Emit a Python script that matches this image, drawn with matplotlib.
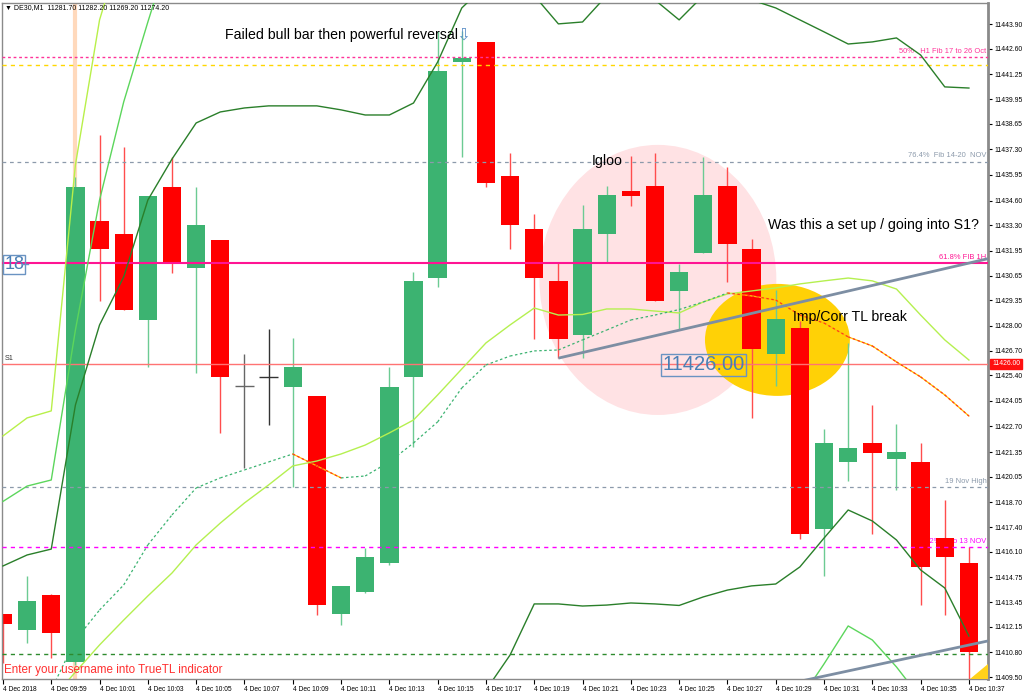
import matplotlib
matplotlib.use("Agg")
import matplotlib.pyplot as plt
import numpy as np
from matplotlib.patches import Ellipse, Polygon

plt.rcParams['font.family'] = ['Liberation Sans', 'DejaVu Sans']

nan = np.nan

# ---------------- data ----------------
xtick_labels = ["4 Dec 2018", "4 Dec 09:59", "4 Dec 10:01", "4 Dec 10:03", "4 Dec 10:05",
                "4 Dec 10:07", "4 Dec 10:09", "4 Dec 10:11", "4 Dec 10:13", "4 Dec 10:15",
                "4 Dec 10:17", "4 Dec 10:19", "4 Dec 10:21", "4 Dec 10:23", "4 Dec 10:25",
                "4 Dec 10:27", "4 Dec 10:29", "4 Dec 10:31", "4 Dec 10:33", "4 Dec 10:35",
                "4 Dec 10:37"]

ytick_labels = ["11443.90", "11442.60", "11441.25", "11439.95", "11438.65", "11437.30",
                "11435.95", "11434.60", "11433.30", "11431.95", "11430.65", "11429.35",
                "11428.00", "11426.70", "11425.40", "11424.05", "11422.70", "11421.35",
                "11420.05", "11418.70", "11417.40", "11416.10", "11414.75", "11413.45",
                "11412.15", "11410.80", "11409.50"]

opens = [11412.81, 11412.00, 11413.81, 11410.27, 11433.51, 11432.84, 11428.32, 11435.33,
         11431.03, 11432.53, 11424.82, 11425.32, 11424.78, 11424.33, 11412.82, 11413.98,
         11415.51, 11425.33, 11430.54, 11441.89, 11442.93, 11435.89, 11433.08, 11430.34,
         11427.52, 11432.83, 11435.09, 11435.38, 11429.83, 11431.84, 11435.36, 11432.05,
         11426.53, 11427.87, 11417.30, 11420.81, 11421.84, 11420.99, 11420.84, 11416.81,
         11415.52]
highs = [11412.81, 11414.81, 11413.85, 11435.86, 11438.05, 11437.40, 11434.84, 11436.90,
         11435.33, 11432.53, 11426.53, 11427.85, 11427.34, 11424.33, 11414.30, 11416.30,
         11425.82, 11430.86, 11443.51, 11443.51, 11442.93, 11437.10, 11433.90, 11431.30,
         11434.37, 11435.39, 11436.93, 11437.10, 11431.28, 11436.90, 11436.38, 11432.56,
         11429.89, 11428.26, 11422.54, 11427.11, 11423.84, 11422.83, 11421.84, 11418.85,
         11416.34]
lows = [11410.24, 11411.27, 11410.51, 11410.13, 11429.30, 11428.83, 11425.81, 11430.81,
        11425.50, 11422.33, 11420.50, 11422.76, 11419.50, 11412.78, 11412.24, 11413.90,
        11415.40, 11421.62, 11430.05, 11436.90, 11435.34, 11432.04, 11427.31, 11426.30,
        11426.31, 11431.33, 11434.33, 11429.32, 11427.84, 11431.84, 11430.33, 11423.15,
        11424.81, 11416.79, 11414.80, 11419.81, 11417.01, 11419.34, 11413.30, 11412.79,
        11408.80]
closes = [11412.28, 11413.49, 11411.80, 11435.33, 11432.04, 11428.83, 11434.84, 11431.33,
          11433.32, 11425.31, 11424.82, 11425.32, 11425.81, 11413.28, 11414.30, 11415.82,
          11424.80, 11430.34, 11441.43, 11442.10, 11435.53, 11433.33, 11430.52, 11427.31,
          11433.08, 11434.90, 11434.86, 11429.32, 11430.86, 11434.88, 11432.33, 11426.80,
          11428.35, 11417.01, 11421.84, 11421.57, 11421.30, 11421.36, 11415.29, 11415.81,
          11410.81]

band_upper = [11415.35, 11415.93, 11416.24, 11423.83, 11428.05, 11430.58, 11434.63, 11436.79,
              11438.69, 11439.27, 11439.48, 11439.59, 11439.59, 11439.59, 11439.38, 11439.11,
              11439.11, 11439.74, 11441.90, 11444.75, 11445.96, 11446.20, 11445.40, 11443.91,
              11444.01, 11445.40, 11445.96, 11445.17, 11444.12, 11445.40, 11445.40, 11445.17,
              11444.75, 11444.12, 11443.49, 11442.85, 11442.96, 11443.17, 11442.27, 11440.59,
              11440.53]
band_lower = [nan] * 19 + [11406.50, 11408.81, 11410.66, 11413.35, 11413.35, 11413.24, 11413.29,
              11413.40, 11413.35, 11413.27, 11413.72, 11414.08, 11414.30, 11414.40, 11415.30,
              11416.82, 11418.30, 11417.72, 11416.72, 11415.14, 11414.19, 11411.66]

env_upper = [11418.75, 11419.56, 11419.88, 11427.78, 11434.63, 11439.80, 11444.01, 11448.07] + [nan] * 33
env_lower = [nan] * 33 + [11408.29, 11410.19, 11412.19, 11411.45, 11410.03, 11408.39, nan, nan]

yg_upper = [11422.20, 11423.15, 11423.52, 11436.48, 11444.12, 11448.30] + [nan] * 35

ma_mid = [nan, nan, 11408.30, 11409.76, 11411.19, 11412.50, 11413.77, 11414.98, 11416.46,
          11417.61, 11418.67, 11419.62, 11420.62, 11420.88, 11421.25, 11421.72, 11422.36,
          11423.04, 11424.36, 11425.73, 11427.10, 11428.05, 11428.94, 11428.57, 11428.60,
          11428.89, 11428.89, 11428.78, 11428.68, 11429.26, 11429.68, 11429.84, 11430.00,
          11430.21, 11430.37, 11430.52, 11430.37, 11429.94, 11428.57, 11427.26, 11426.20]

ma_sig = [nan, nan, 11408.82, 11411.45, 11413.03, 11414.35, 11416.46, 11418.04, 11419.46,
          11419.99, 11420.41, 11420.83, 11421.25, 11420.62, 11419.99, 11420.09, 11420.83,
          11421.83, 11422.94, 11424.73, 11425.94, 11426.41, 11426.68, 11426.73, 11427.26,
          11427.78, 11428.31, 11428.57, 11428.86, 11429.26, 11429.73, 11429.58, 11429.36,
          11428.57, 11428.15, 11427.42, 11426.94, 11426.10, 11425.31, 11424.36, 11423.25]

level_prices = [11442.15, 11441.74, 11436.65, 11431.30, 11426.00, 11419.51, 11416.35, 11410.71]
level_colors = ['#FF3399', '#FFD700', '#8C9AAB', '#FF1493', '#FF7373', '#8C9AAB', '#FF00FF', '#2E8B2E']
level_styles = [(0, (2, 2)), (0, (3, 3)), (0, (3, 3)), '-', '-', (0, (3, 3)), (0, (3, 3)), (0, (3, 3))]
level_widths = [1.0, 1.0, 0.9, 1.5, 1.0, 0.9, 1.0, 1.0]
level_labels = ["50%   H1 Fib 17 to 26 Oct", "", "76.4%  Fib 14-20  NOV", "61.8% FIB 1H", "",
                "19 Nov High", "38.2%  7 to 13 NOV", ""]

tl_upper_x = [23, 40.79]
tl_upper_y = [11426.30, 11431.54]
tl_lower_x = [32.0, 40.79]
tl_lower_y = [11409.00, 11411.40]

s1_price = 11426.00

# ---------------- figure ----------------
W, H = 1024, 695
fig = plt.figure(figsize=(W / 100, H / 100), dpi=100)
fig.patch.set_facecolor('white')
ax = fig.add_axes([2 / W, 16 / H, 986 / W, 676 / H])
ax.set_xlim(-0.04, 40.79)
ax.set_ylim(11409.395, 11445.01)

# background shapes
ax.add_patch(Ellipse((27.12, 11430.42), 9.81, 14.23, facecolor='#FFE2E4', edgecolor='none', zorder=0.5))
ax.add_patch(Ellipse((32.07, 11427.26), 6.0, 5.9, facecolor='#FFD106', edgecolor='none', zorder=0.6))

# vertical marker line at 10:00
ax.axvline(3, color='#FFD9BC', lw=3.0, zorder=0.8)

# candles
GREEN = '#3CB371'
RED = '#FF0000'
n = len(opens)
for i in range(n):
    o, h, l, c = opens[i], highs[i], lows[i], closes[i]
    if c > o:
        col, wcol = GREEN, '#6CCB93'
    elif c < o:
        col, wcol = RED, '#FF4D4D'
    else:
        col = wcol = '#666666' if i == 10 else '#333333'
    ax.vlines(i, l, h, color=wcol, lw=1.0, zorder=2)
    if c != o:
        ax.bar(i, abs(c - o), bottom=min(o, c), width=0.76, color=col,
               edgecolor='none', zorder=2.2)
    else:
        ax.hlines(o, i - 0.38, i + 0.38, color=col, lw=1.0, zorder=2.2)

xs = np.arange(n)
# horizontal levels
for p, c, ls, lw, lab in zip(level_prices, level_colors, level_styles, level_widths, level_labels):
    ax.axhline(p, color=c, ls=ls, lw=lw, zorder=3)
    if lab:
        ax.text(40.72, p + 0.12, lab, color=c, fontsize=5.4, ha='right', va='bottom', zorder=1.5)

# indicator lines
ax.plot(xs, band_upper, color='#2A7F2A', lw=1.0, zorder=3.2)
ax.plot(xs, band_lower, color='#2A7F2A', lw=1.0, zorder=3.2)
ax.plot(xs, env_upper, color='#5CD65C', lw=1.0, zorder=3.1)
ax.plot(xs, env_lower, color='#5CD65C', lw=1.0, zorder=3.1)
ax.plot(xs, yg_upper, color='#B8F04A', lw=1.0, zorder=3.1)
ax.plot(xs, ma_mid, color='#B5F050', lw=1.0, zorder=3.1)
for i in range(n - 1):
    a, b = ma_sig[i], ma_sig[i + 1]
    if np.isnan(a) or np.isnan(b):
        continue
    if b >= a:
        ax.plot([i, i + 1], [a, b], color='#3CB371', lw=0.9, ls=(0, (2, 2)), zorder=3.1)
    else:
        ax.plot([i, i + 1], [a, b], color='#FFC000', lw=0.9, zorder=3.05)
        ax.plot([i, i + 1], [a, b], color='#FF3B1F', lw=0.9, ls=(0, (2, 2)), zorder=3.1)

# trend lines
ax.plot(tl_upper_x, tl_upper_y, color='#7D8EA3', lw=2.0, zorder=3.5, solid_capstyle='butt')
ax.plot(tl_lower_x, tl_lower_y, color='#7D8EA3', lw=2.0, zorder=3.5, solid_capstyle='butt')

# annotations
ax.text(9.19, 11443.33, "Failed bull bar then powerful reversal", fontsize=10.2, ha='left',
        va='center', color='black', zorder=6)
ax.text(19.05, 11443.35, "\u21e9", fontsize=12, color='#5B8FC7', ha='center', va='center',
        family=['DejaVu Sans'], zorder=6)
ax.text(24.39, 11436.69, "Igloo", fontsize=10.2, ha='left', va='center', color='black', zorder=6)
ax.text(31.68, 11433.29, "Was this a set up / going into S1?", fontsize=10.2, ha='left',
        va='center', color='black', zorder=6)
ax.text(32.71, 11428.47, "Imp/Corr TL break", fontsize=10.2, ha='left', va='center',
        color='black', zorder=6)
ax.text(27.3, s1_price - 0.05, "11426.00", fontsize=14.5, color='#4A7FB5', ha='left', va='center',
        zorder=6, bbox=dict(boxstyle='square,pad=0.08', fc='none', ec='#6A93C2', lw=1.0))
ax.text(0.06, 11431.22, "18", fontsize=13, color='#4A7FB5', ha='left', va='center', zorder=6,
        bbox=dict(boxstyle='square,pad=0.06', fc='none', ec='#6A93C2', lw=1.0))
ax.plot([0.78, 1.05], [11431.25, 11431.25], color='#6A93C2', lw=1.0, zorder=6)
ax.text(0.06, s1_price + 0.12, "S1", fontsize=5.2, color='#333333', ha='left', va='bottom', zorder=6)
ax.text(0.06, 11409.85, "Enter your username into TrueTL indicator", fontsize=8.4, color='#FF3030',
        ha='left', va='center', zorder=6)

# corner triangle
ax.add_patch(Polygon([(968 / 986, 0), (1, 0), (1, 15 / 676)], closed=True, transform=ax.transAxes,
                     facecolor='#FFD21A', edgecolor='none', zorder=6, clip_on=False))

# axes / ticks
ax.set_xticks(np.arange(0, n, 2))
ax.set_xticklabels(xtick_labels)
for lab in ax.get_xticklabels():
    lab.set_ha('left')
ax.set_yticks([float(s) for s in ytick_labels])
ax.set_yticklabels(ytick_labels)
ax.yaxis.tick_right()
ax.tick_params(axis='y', length=3, width=0.8, colors='black', labelsize=4.9, pad=1.5)
ax.tick_params(axis='x', length=3.5, width=0.8, colors='black', labelsize=4.8, pad=1.2)
for sp in ax.spines.values():
    sp.set_color('#8A8A8A')
    sp.set_linewidth(1.0)
ax.spines['right'].set_linewidth(2.0)

# red price label for S1 on the price scale
ax.annotate("11426.00", xy=(1.004, s1_price), xycoords=('axes fraction', 'data'), fontsize=4.9,
            color='white', ha='left', va='center', annotation_clip=False, zorder=7,
            bbox=dict(boxstyle='square,pad=0.25', fc='#FF1010', ec='#FF1010'))

fig.text(5 / W, 1 - 8 / H, "\u25bc DE30,M1  11281.70 11282.20 11269.20 11274.20", fontsize=5.0,
         ha='left', va='center', color='black', family=['Liberation Sans', 'DejaVu Sans'])

fig.savefig("out.png", dpi=100, facecolor='white')
